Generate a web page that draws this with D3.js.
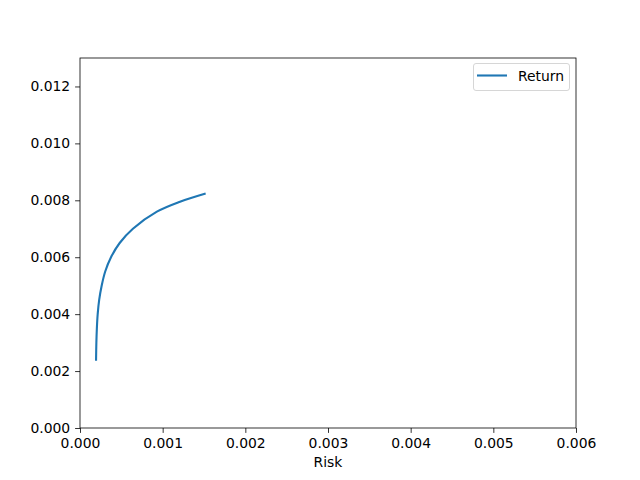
<!DOCTYPE html>
<html><head><meta charset="utf-8">
<script src="https://cdn.jsdelivr.net/npm/d3@7"></script>
<style>body{margin:0;background:#fff}svg{display:block}text{font-family:"DejaVu Sans",sans-serif}</style>
</head><body>
<script>
const risk = [0.000194,0.000198,0.000204,0.000214,0.000232,0.000262,0.000305,0.000375,0.00048,0.00064,0.00093,0.00121,0.00152];
const ret  = [0.00236,0.003,0.0035,0.004,0.0045,0.005,0.0055,0.006,0.0065,0.007,0.0076,0.00795,0.00824];
const xTicks = [0,0.001,0.002,0.003,0.004,0.005,0.006];
const yTicks = [0,0.002,0.004,0.006,0.008,0.010,0.012];
const seriesName = "Return";
const xLabel = "Risk";

const W=640,H=480,L=80,R=576,T=58,B=428;
const svg=d3.select("body").append("svg").attr("width",W).attr("height",H);
const x=d3.scaleLinear().domain([0,0.006]).range([L,R]);
const y=d3.scaleLinear().domain([0,0.013]).range([B,T]);
const fs="13.9px";

const line=d3.line().x((d,i)=>x(risk[i])).y((d,i)=>y(ret[i])).curve(d3.curveCatmullRom.alpha(0.5));
svg.append("path").datum(risk).attr("d",line).attr("fill","none").attr("stroke","#1f77b4").attr("stroke-width",2.1);

const xa=svg.append("g").attr("transform",`translate(0,${B})`).call(d3.axisBottom(x).tickValues(xTicks).tickFormat(d3.format(".3f")).tickSize(4.9).tickPadding(4.9));
const ya=svg.append("g").attr("transform",`translate(${L},0)`).call(d3.axisLeft(y).tickValues(yTicks).tickFormat(d3.format(".3f")).tickSize(4.9).tickPadding(4.9));
[xa,ya].forEach(a=>{a.select(".domain").remove();a.selectAll("text").attr("font-size",fs).attr("fill","#000").attr("font-family","DejaVu Sans");a.selectAll("line").attr("stroke","#000").attr("stroke-width",0.8);});
svg.append("rect").attr("x",L).attr("y",T).attr("width",R-L).attr("height",B-T).attr("fill","none").attr("stroke","#000").attr("stroke-width",0.8);

svg.append("text").attr("x",(L+R)/2).attr("y",467).attr("text-anchor","middle").attr("font-size",fs).text(xLabel);

const lg=svg.append("g");
lg.append("rect").attr("x",473.5).attr("y",63.5).attr("width",96).attr("height",27).attr("rx",2.5).attr("fill","#fff").attr("fill-opacity",0.8).attr("stroke","#cccccc").attr("stroke-width",0.8);
lg.append("line").attr("x1",477).attr("x2",507).attr("y1",75.5).attr("y2",75.5).attr("stroke","#1f77b4").attr("stroke-width",2.1);
lg.append("text").attr("x",518).attr("y",80.5).attr("font-size",fs).text(seriesName);
</script>
</body></html>
